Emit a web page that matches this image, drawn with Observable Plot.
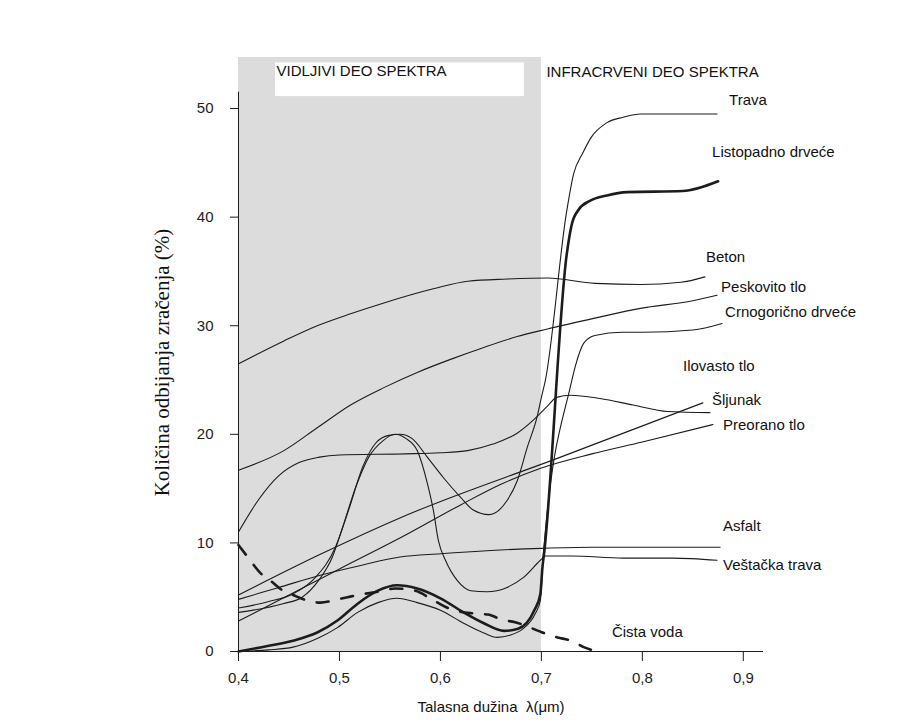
<!DOCTYPE html>
<html><head><meta charset="utf-8">
<script src="https://cdn.jsdelivr.net/npm/d3@7"></script>
<script src="https://cdn.jsdelivr.net/npm/@observablehq/plot@0.6"></script>
<style>
body{margin:0;background:#fff;}
#chart svg{display:block;}
</style>
</head><body><div id="chart"></div>
<script>
// ---- data (wavelength µm, reflectance %) ----
const trava = [[0.4,4.0],[0.43,4.6],[0.454,5.3],[0.476,6.8],[0.496,9.6],[0.509,13.0],[0.523,17.0],[0.536,19.2],[0.549,19.9],[0.56,20.0],[0.572,19.6],[0.587,17.9],[0.603,16.0],[0.62,14.2],[0.633,13.0],[0.648,12.6],[0.666,13.9],[0.676,15.7],[0.686,18.8],[0.696,21.7],[0.7,23.4],[0.704,25.0],[0.725,40.5],[0.732,44.0],[0.741,45.9],[0.749,47.3],[0.765,48.7],[0.781,49.2],[0.798,49.5],[0.874,49.5]];
const listopadno = [[0.4,0.0],[0.423,0.4],[0.454,1.0],[0.478,1.75],[0.498,2.85],[0.518,4.4],[0.538,5.6],[0.557,6.1],[0.577,5.8],[0.6,4.9],[0.623,3.6],[0.643,2.6],[0.663,1.9],[0.677,2.1],[0.693,3.8],[0.699,5.3],[0.701,7.7],[0.703,9.3],[0.725,36.5],[0.73,39.3],[0.737,40.7],[0.748,41.5],[0.765,42.0],[0.785,42.3],[0.84,42.4],[0.875,43.3]];
const beton = [[0.4,26.5],[0.445,28.6],[0.478,30.0],[0.511,31.1],[0.544,32.1],[0.593,33.4],[0.627,34.1],[0.666,34.3],[0.706,34.4],[0.753,33.9],[0.798,33.8],[0.838,34.0],[0.862,34.5]];
const peskovito = [[0.4,16.7],[0.445,18.5],[0.478,20.6],[0.511,22.7],[0.544,24.3],[0.577,25.7],[0.61,26.9],[0.643,28.0],[0.676,29.0],[0.706,29.7],[0.753,30.7],[0.798,31.6],[0.85,32.3],[0.874,32.8]];
const crnogoricno = [[0.4,0.0],[0.43,0.15],[0.454,0.4],[0.478,1.2],[0.498,2.2],[0.518,3.6],[0.538,4.5],[0.557,4.9],[0.577,4.5],[0.6,3.8],[0.623,2.6],[0.643,1.7],[0.656,1.3],[0.669,1.5],[0.682,2.1],[0.694,3.5],[0.699,4.7],[0.702,9.0],[0.729,24.5],[0.734,26.4],[0.742,28.4],[0.753,29.1],[0.78,29.4],[0.8,29.4],[0.85,29.6],[0.879,30.2]];
const ilovasto = [[0.4,11.0],[0.42,14.0],[0.44,16.2],[0.46,17.4],[0.48,17.9],[0.5,18.1],[0.565,18.2],[0.6,18.3],[0.627,18.5],[0.652,19.1],[0.676,20.1],[0.692,21.3],[0.706,22.6],[0.715,23.4],[0.729,23.6],[0.758,23.3],[0.791,22.7],[0.825,22.1],[0.867,22.0]];
const sljunak = [[0.4,5.2],[0.48,8.9],[0.565,12.5],[0.719,17.9],[0.86,22.9]];
const preorano = [[0.4,2.8],[0.5,7.6],[0.565,10.7],[0.62,13.5],[0.66,15.4],[0.7,16.9],[0.75,18.2],[0.8,19.3],[0.87,20.9]];
const asfalt = [[0.4,4.8],[0.44,5.9],[0.48,7.0],[0.52,7.9],[0.56,8.7],[0.6,9.0],[0.65,9.3],[0.7,9.5],[0.75,9.6],[0.877,9.6]];
const vestacka = [[0.4,3.6],[0.444,4.4],[0.463,5.0],[0.479,6.5],[0.493,8.7],[0.503,11.4],[0.516,15.1],[0.529,17.9],[0.543,19.4],[0.555,20.0],[0.566,19.6],[0.577,18.5],[0.587,15.5],[0.593,13.0],[0.598,10.2],[0.605,8.4],[0.617,6.5],[0.63,5.6],[0.646,5.5],[0.666,5.9],[0.682,6.8],[0.699,8.4],[0.704,8.8],[0.73,8.8],[0.781,8.6],[0.83,8.6],[0.874,8.4]];
const cistaVoda = [[0.4,9.8],[0.41,8.6],[0.422,7.2],[0.432,6.5],[0.444,5.6],[0.454,5.2],[0.468,4.7],[0.481,4.5],[0.498,4.8],[0.508,5.0],[0.524,5.3],[0.538,5.5],[0.555,5.8],[0.575,5.6],[0.595,4.6],[0.61,3.9],[0.633,3.5],[0.647,3.4],[0.662,2.9],[0.674,2.7],[0.689,2.2],[0.701,1.75],[0.716,1.3],[0.729,1.0],[0.742,0.4],[0.755,0.0]];

const seriesNames = ["Trava","Listopadno drveće","Beton","Peskovito tlo","Crnogorično drveće","Ilovasto tlo","Šljunak","Preorano tlo","Asfalt","Veštačka trava","Čista voda"];
const seriesValues = [trava, listopadno, beton, peskovito, crnogoricno, ilovasto, sljunak, preorano, asfalt, vestacka, cistaVoda];
const xTicks = [0.4,0.5,0.6,0.7,0.8,0.9];
const yTicks = [0,10,20,30,40,50];
const regions = [{label:"VIDLJIVI DEO SPEKTRA", from:0.4, to:0.7}, {label:"INFRACRVENI DEO SPEKTRA", from:0.7, to:0.92}];
const xTitle = "Talasna dužina  λ(μm)";
const yTitle = "Količina odbijanja zračenja (%)";

// ---- derived tables ----
const rows = seriesNames.flatMap((name, i) => seriesValues[i].map(([x, y]) => ({name, x, y})));
const ends = seriesNames.map((name, i) => { const v = seriesValues[i]; const [x, y] = v[v.length - 1]; return {name, x, y}; });

// label offsets (px) from each line's end point
const labelOffset = {
  "Trava":[12,-14], "Listopadno drveće":[-6,-29], "Beton":[1,-20], "Peskovito tlo":[4,-8],
  "Crnogorično drveće":[3,-11], "Ilovasto tlo":[-27,-46], "Šljunak":[9,-3], "Preorano tlo":[10,1],
  "Asfalt":[3,-21], "Veštačka trava":[6,5], "Čista voda":[15,-19]
};
const THICK = "Listopadno drveće", DASHED = "Čista voda";
const ink = "#1c1c1c";
const fmt = d => String(d).replace(".", ",");
const yTop = 54.7;

const labelMarks = ends.map(e => Plot.text([e], {x:"x", y:"y", text:"name", textAnchor:"start",
  dx: labelOffset[e.name][0], dy: labelOffset[e.name][1], fill:"#111", fontSize:15}));

const chart = Plot.plot({
  width: 921, height: 723,
  marginLeft: 238, marginRight: 158, marginTop: 57, marginBottom: 72,
  x: {domain: [0.4, 0.92]},
  y: {domain: [0, yTop]},
  style: {fontFamily: "'Liberation Sans', Arial, sans-serif", fontSize: "15px", color: "#222", background: "#fff", overflow: "visible"},
  marks: [
    Plot.rect([regions[0]], {x1:"from", x2:"to", y1:0, y2:yTop, fill:"#dcdcdc"}),
    Plot.rect([regions[0]], {x1:"from", x2:"to", y1:51.1, y2:54.2, fill:"#fff", insetLeft:37, insetRight:17}),
    Plot.text([regions[0]], {x:"from", y:yTop, text:"label", textAnchor:"start", dx:38, dy:14, fill:"#111", fontSize:15}),
    Plot.text([regions[1]], {x:"from", y:yTop, text:"label", textAnchor:"start", dx:5, dy:15, fill:"#111", fontSize:15}),
    Plot.line(rows.filter(d => d.name !== THICK && d.name !== DASHED), {x:"x", y:"y", z:"name", stroke:ink, strokeWidth:1.1, curve:"monotone-x"}),
    Plot.line(rows.filter(d => d.name === THICK), {x:"x", y:"y", stroke:ink, strokeWidth:2.6, curve:"monotone-x"}),
    Plot.line(rows.filter(d => d.name === DASHED), {x:"x", y:"y", stroke:ink, strokeWidth:2.6, strokeDasharray:"12,13", curve:"monotone-x"}),
    Plot.ruleX([xTicks[0]], {y1:0, y2:51.5, stroke:ink, strokeWidth:1}),
    Plot.ruleY([yTicks[0]], {x1:0.4, x2:0.92, stroke:ink, strokeWidth:1}),
    Plot.axisX({ticks: xTicks, tickFormat: fmt, tickSize: 10, tickPadding: 11, label: null, stroke: ink}),
    Plot.axisY({ticks: yTicks, tickFormat: d => d, tickSize: 8, tickPadding: 17, label: null, stroke: ink}),
    ...labelMarks,
    Plot.text([xTitle], {frameAnchor:"bottom", dx:-10, dy:60, fontSize:15, fill:"#111"}),
    Plot.text([yTitle], {frameAnchor:"left", textAnchor:"middle", rotate:-90, dx:-76, dy:8, fontSize:21, fill:"#111", fontFamily:"'Liberation Serif', 'Times New Roman', serif"})
  ]
});
document.getElementById("chart").appendChild(chart);
</script>
</body></html>
